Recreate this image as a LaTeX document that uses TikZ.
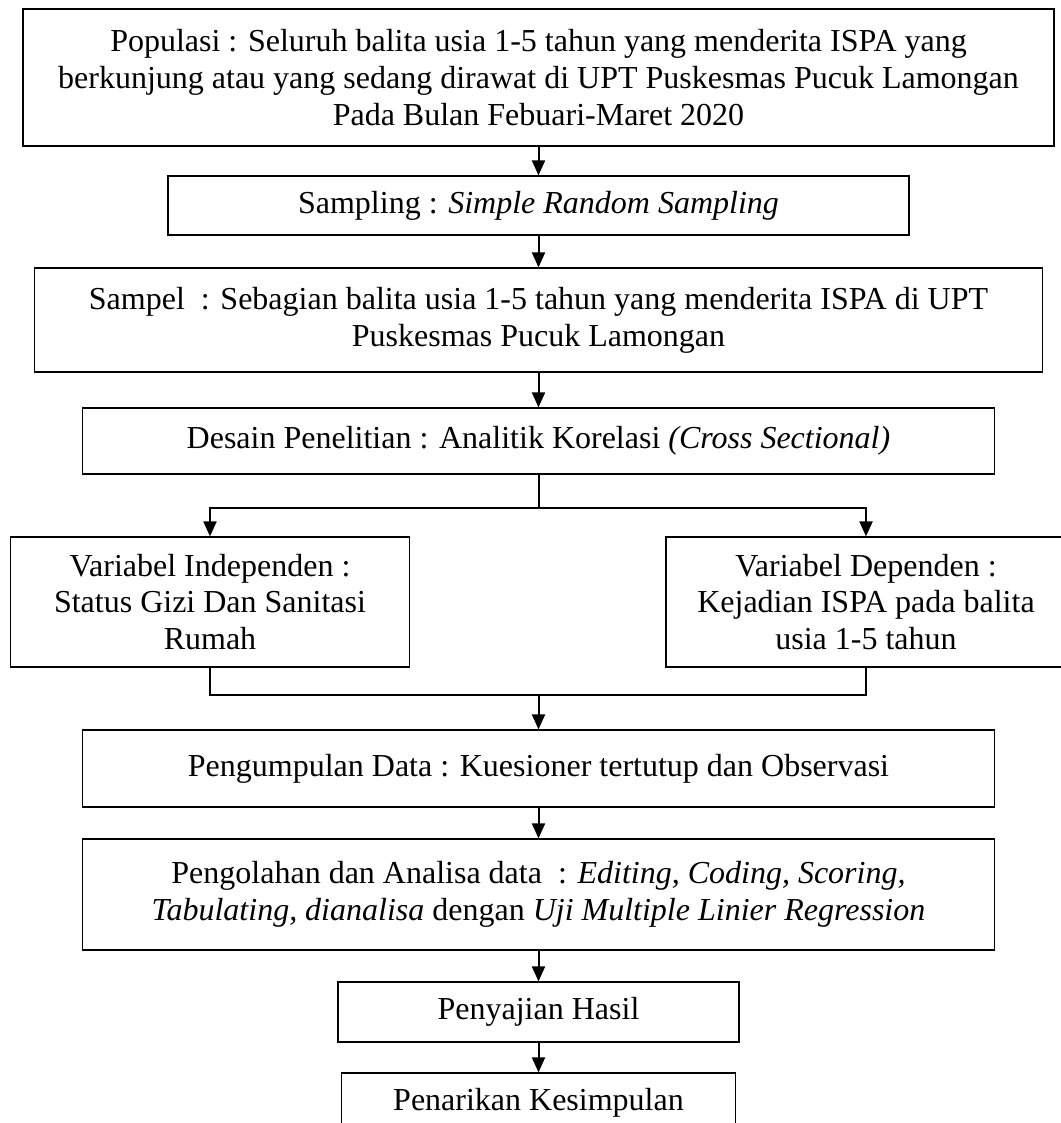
\documentclass[tikz,border=0pt]{standalone}
\usepackage{fontspec}
\setmainfont{Liberation Serif}
\usetikzlibrary{arrows.meta, positioning}

\begin{document}
\begin{tikzpicture}[x=0.5pt, y=-0.5pt]
\tikzstyle{kotak} = [rectangle, draw=black, line width=0.6pt, align=center, inner sep=0pt, font=\fontsize{16}{18.4}\selectfont]
\tikzstyle{panah} = [-{Triangle[length=7.5pt, width=6.5pt]}, line width=1pt]
\tikzstyle{garis} = [-, line width=1pt]

\useasboundingbox (0,0) rectangle (1060,1123);

\node (populasi) [kotak, minimum width=515.5pt, minimum height=68.5pt] at (538.5,77.5) {Populasi : Seluruh balita usia 1-5 tahun yang menderita ISPA yang\\berkunjung atau yang sedang dirawat di UPT Puskesmas Pucuk Lamongan\\Pada Bulan Febuari-Maret 2020};
\node (sampling) [kotak, minimum width=370.5pt, minimum height=29.5pt] at (538.5,205.5) {Sampling : \textit{Simple Random Sampling}};
\node (sampel) [kotak, minimum width=504pt, minimum height=52pt] at (538.5,320) {Sampel\ \ : Sebagian balita usia 1-5 tahun yang menderita ISPA di UPT\\Puskesmas Pucuk Lamongan};
\node (desain) [kotak, minimum width=456pt, minimum height=33pt] at (538.5,441) {Desain Penelitian : Analitik Korelasi \textit{(Cross Sectional)}};

\node (independen) [kotak, minimum width=199.5pt, minimum height=65pt] at (210,602) {Variabel Independen :\\Status Gizi Dan Sanitasi\\Rumah};
\node (dependen) [kotak, minimum width=200pt, minimum height=65pt] at (866,602) {Variabel Dependen :\\Kejadian ISPA pada balita\\usia 1-5 tahun};

\node (pengumpulan) [kotak, minimum width=456pt, minimum height=38.5pt] at (538.5,768.5) {Pengumpulan Data : Kuesioner tertutup dan Observasi};
\node (pengolahan) [kotak, minimum width=456pt, minimum height=55.5pt] at (538.5,894.5) {Pengolahan dan Analisa data\ \ : \textit{Editing, Coding, Scoring,}\\\textit{Tabulating, dianalisa} dengan \textit{Uji Multiple Linier Regression}};
\node (penyajian) [kotak, minimum width=200.5pt, minimum height=30pt] at (538.5,1012) {Penyajian Hasil};
\node (kesimpulan) [kotak, minimum width=197pt, minimum height=30pt] at (538.5,1103) {Penarikan Kesimpulan};

\coordinate (cabang) at (538.5,508);
\coordinate (gabung) at (538.5,695);

\draw[panah] (populasi) -- (sampling);
\draw[panah] (sampling) -- (sampel);
\draw[panah] (sampel) -- (desain);
\draw[garis] (desain) -- (cabang);
\draw[panah] (cabang) -| (independen);
\draw[panah] (cabang) -| (dependen);
\draw[garis] (independen) |- (gabung) -| (dependen);
\draw[panah] (gabung) -- (pengumpulan);
\draw[panah] (pengumpulan) -- (pengolahan);
\draw[panah] (pengolahan) -- (penyajian);
\draw[panah] (penyajian) -- (kesimpulan);

\end{tikzpicture}
\end{document}
